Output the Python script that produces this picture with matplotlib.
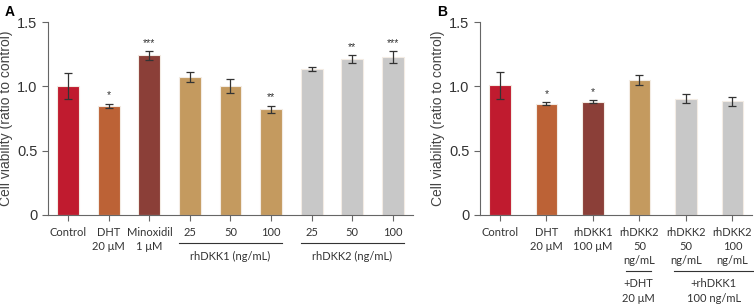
import matplotlib.pyplot as plt
from matplotlib.transforms import blended_transform_factory

# panel A
labels_a = ["Control", "DHT\n20 μM", "Minoxidil\n1 μM", "25", "50", "100", "25", "50", "100"]
values_a = [1.00, 0.85, 1.24, 1.07, 1.00, 0.82, 1.135, 1.21, 1.23]
errors_a = [0.10, 0.015, 0.035, 0.04, 0.055, 0.03, 0.012, 0.03, 0.045]
stars_a = ["", "*", "***", "", "", "**", "", "**", "***"]
colors_a = ["#c01b2f", "#bc6236", "#8b3f38", "#c49a5f", "#c49a5f", "#c49a5f",
            "#c8c8c8", "#c8c8c8", "#c8c8c8"]

# panel B
labels_b = ["Control", "DHT\n20 μM", "rhDKK1\n100 μM", "rhDKK2\n50\nng/mL",
            "rhDKK2\n50\nng/mL", "rhDKK2\n100\nng/mL"]
values_b = [1.01, 0.865, 0.88, 1.05, 0.905, 0.885]
errors_b = [0.105, 0.012, 0.012, 0.04, 0.035, 0.035]
stars_b = ["", "*", "*", "", "", ""]
colors_b = ["#c01b2f", "#bc6236", "#8b3f38", "#c49a5f", "#c8c8c8", "#c8c8c8"]

YLABEL = "Cell viability (ratio to control)"
TICK_FONT = "Liberation Sans"
LABEL_FONT = "Lato"

fig = plt.figure(figsize=(7.54, 3.07), dpi=100)
H = 307.0
W = 754.0
# axes in pixel terms: bottom spine at y=215, top at y=22
ax_a = fig.add_axes([48 / W, (H - 215) / H, (413 - 48) / W, 193 / H])
ax_b = fig.add_axes([480 / W, (H - 215) / H, (752 - 480) / W, 193 / H])


def pix_to_axes(ypix):
    return (215 - ypix) / 193.0


def draw_panel(ax, labels, values, errors, stars, colors, width, xlim):
    x = list(range(len(values)))
    ax.bar(x, values, width=width, color=colors, edgecolor="#f3ece4", linewidth=0.8, zorder=2)
    ax.errorbar(x, values, yerr=errors, fmt="none", ecolor="#333333",
                elinewidth=0.9, capsize=3, capthick=0.9, zorder=3)
    for xi, v, e, s in zip(x, values, errors, stars):
        if s:
            ax.text(xi, v + e + 0.025, s, ha="center", va="bottom", fontsize=7.5,
                    color="#333333", family=TICK_FONT)
    ax.set_xlim(*xlim)
    ax.set_ylim(0, 1.5)
    ax.set_yticks([0, 0.5, 1.0, 1.5])
    ax.set_yticklabels(["0", "0.5", "1.0", "1.5"], family=TICK_FONT, fontsize=10.5, color="#333333")
    ax.set_xticks(x)
    ax.set_xticklabels(labels, family=LABEL_FONT, fontsize=8, color="#333333",
                       linespacing=1.3, va="top")
    ax.tick_params(axis="both", color="#666666", length=4, width=0.8)
    ax.tick_params(axis="x", pad=5)
    for side in ["top", "right"]:
        ax.spines[side].set_visible(False)
    for side in ["left", "bottom"]:
        ax.spines[side].set_color("#666666")
        ax.spines[side].set_linewidth(0.8)
    ax.set_ylabel(YLABEL, family=TICK_FONT, fontsize=10, color="#444444", labelpad=3)


draw_panel(ax_a, labels_a, values_a, errors_a, stars_a, colors_a, 0.54, (-0.5, 8.5))
draw_panel(ax_b, labels_b, values_b, errors_b, stars_b, colors_b, 0.47, (-0.43, 5.42))

# group annotations panel A
tr_a = blended_transform_factory(ax_a.transData, ax_a.transAxes)
for x0, x1, txt in [(2.73, 5.27, "rhDKK1 (ng/mL)"), (5.73, 8.27, "rhDKK2 (ng/mL)")]:
    ax_a.plot([x0, x1], [pix_to_axes(243)] * 2, color="#333333", lw=0.8,
              transform=tr_a, clip_on=False)
    ax_a.text((x0 + x1) / 2, pix_to_axes(256), txt, transform=tr_a, ha="center",
              va="center", fontsize=8, family=LABEL_FONT, color="#333333")

# group annotations panel B
tr_b = blended_transform_factory(ax_b.transData, ax_b.transAxes)
for x0, x1, txt in [(2.7, 3.25, "+DHT\n20 μM"), (3.75, 5.45, "+rhDKK1\n100 ng/mL")]:
    ax_b.plot([x0, x1], [pix_to_axes(271)] * 2, color="#333333", lw=0.8,
              transform=tr_b, clip_on=False)
    ax_b.text((x0 + x1) / 2, pix_to_axes(278), txt, transform=tr_b, ha="center",
              va="top", fontsize=8, family=LABEL_FONT, color="#333333", linespacing=1.4)

fig.text(5 / W, 1 - 12 / H, "A", fontsize=10, fontweight="bold", family=TICK_FONT,
         va="center", ha="left")
fig.text(437 / W, 1 - 12 / H, "B", fontsize=10, fontweight="bold", family=TICK_FONT,
         va="center", ha="left")

fig.savefig("out.png", dpi=100)
